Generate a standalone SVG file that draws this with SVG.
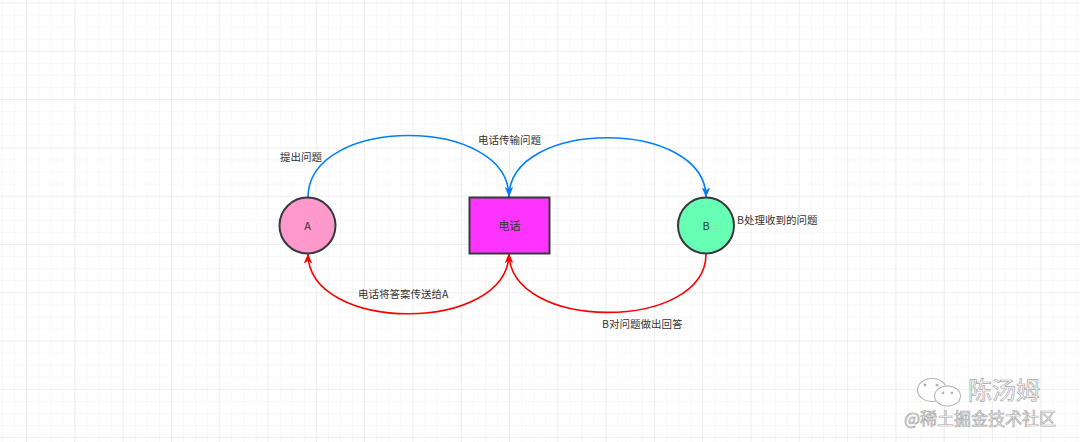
<svg xmlns="http://www.w3.org/2000/svg" width="1080" height="442" viewBox="0 0 1080 442">
  <style>
    .lbl { font-family: "Noto Sans CJK SC", "Noto Sans", sans-serif; font-size: 10.5px; fill: #333333; }
    .nodetxt { font-family: "Noto Sans CJK SC", "Noto Sans", sans-serif; font-size: 11px; fill: #333333; text-anchor: middle; }
    .shape { stroke: #36393d; stroke-width: 2; }
    .blue { fill: none; stroke: #007fff; stroke-width: 1.6; marker-end: url(#arrowBlue); }
    .red { fill: none; stroke: #ff0000; stroke-width: 1.6; marker-end: url(#arrowRed); }
    .wm { font-family: "Noto Sans CJK SC", "Noto Sans", sans-serif; fill: #ffffff; stroke: #a8a8a8; stroke-width: 0.7; }
  </style>
  <defs>
    <pattern id="minor" width="12.075" height="12.075" patternUnits="userSpaceOnUse" x="2" y="2.5">
      <path d="M0,0 H12.075 M0,0 V12.075" fill="none" stroke="#f2f2f2" stroke-width="1"/>
    </pattern>
    <pattern id="major" width="48.3" height="48.3" patternUnits="userSpaceOnUse" x="26" y="2.5">
      <path d="M0,0 H48.3 M0,0 V48.3" fill="none" stroke="#e6e6e6" stroke-width="1"/>
    </pattern>
    <marker id="arrowBlue" viewBox="0 0 10 10" refX="10" refY="5" markerWidth="10" markerHeight="10" markerUnits="userSpaceOnUse" orient="auto">
      <path d="M0,0.8 L10,5 L0,9.2 L2.5,5 Z" fill="#007fff"/>
    </marker>
    <marker id="arrowRed" viewBox="0 0 10 10" refX="10" refY="5" markerWidth="10" markerHeight="10" markerUnits="userSpaceOnUse" orient="auto">
      <path d="M0,0.8 L10,5 L0,9.2 L2.5,5 Z" fill="#ff0000"/>
    </marker>
  </defs>
  <rect width="1080" height="442" fill="#ffffff"/>
  <rect width="1080" height="442" fill="url(#minor)"/>
  <rect width="1080" height="442" fill="url(#major)"/>

  <g id="connectors">
    <path class="blue" d="M308,197.5 C308,115 509,115 509,197"/>
    <path class="blue" d="M509,197 C509,118 706,118 706,197.5"/>
    <path class="red" d="M509,253 C509,334 308,334 308,253.5"/>
    <path class="red" d="M706,254 C706,332 509,332 509,253"/>
  </g>

  <g id="node-A">
    <circle class="shape" cx="307.5" cy="225.5" r="28" fill="#ff99cc"/>
    <text class="nodetxt" x="307.5" y="229.5">A</text>
  </g>
  <g id="node-phone">
    <rect class="shape" x="469.5" y="197.5" width="80" height="56" fill="#ff33ff"/>
    <text class="nodetxt" x="509.5" y="229.5">电话</text>
  </g>
  <g id="node-B">
    <circle class="shape" cx="706" cy="225.5" r="28" fill="#66ffb3"/>
    <text class="nodetxt" x="706" y="229.5">B</text>
  </g>

  <g id="labels">
    <text class="lbl" x="280" y="161">提出问题</text>
    <text class="lbl" x="478" y="144">电话传输问题</text>
    <text class="lbl" x="737" y="224">B处理收到的问题</text>
    <text class="lbl" x="358" y="298">电话将答案传送给A</text>
    <text class="lbl" x="602" y="328">B对问题做出回答</text>
  </g>

  <g id="watermark">
    <ellipse cx="932" cy="390" rx="14.5" ry="11.5" fill="#ffffff" stroke="#b4b4b4" stroke-width="1.1"/>
    <ellipse cx="947.5" cy="396" rx="13" ry="10" fill="#ffffff" stroke="#b4b4b4" stroke-width="1.1"/>
    <circle cx="925" cy="385" r="1.5" fill="#b4b4b4"/>
    <circle cx="937" cy="385" r="1.5" fill="#b4b4b4"/>
    <circle cx="943" cy="393" r="1.3" fill="#b4b4b4"/>
    <circle cx="952" cy="393" r="1.3" fill="#b4b4b4"/>
    <text class="wm" x="968" y="399" font-size="24">陈汤姆</text>
    <text class="wm" x="904" y="425" font-size="17">@稀土掘金技术社区</text>
  </g>
</svg>
